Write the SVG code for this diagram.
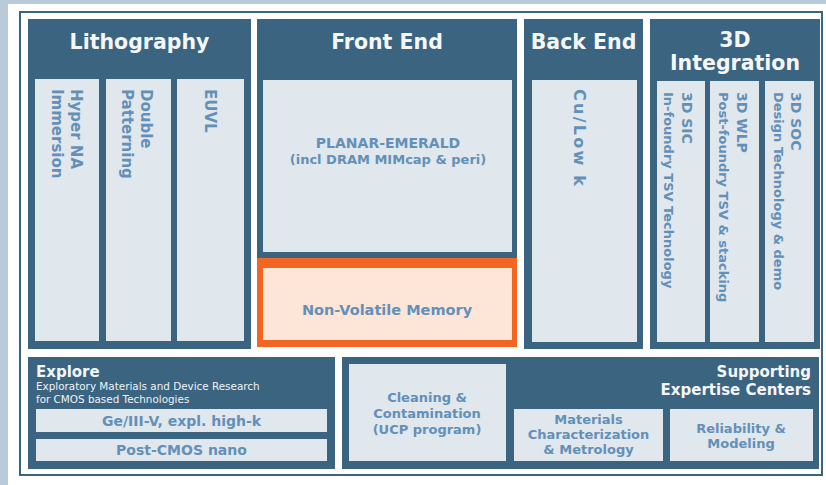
<svg xmlns="http://www.w3.org/2000/svg" width="826" height="485" viewBox="0 0 826 485">
<style>
.dark{fill:#3b6481}
.light{fill:#e0e7ed}
.t{font-family:"DejaVu Sans","Verdana",sans-serif;font-weight:bold}
.hd{fill:#f4f6f8;font-size:20.5px;text-anchor:middle}
.lb{fill:#6390b8;font-size:15px}
.sm{fill:#6390b8;font-size:13px}
.c{text-anchor:middle}
</style>
<rect x="0" y="0" width="826" height="485" fill="#ffffff"/>
<rect x="0" y="0" width="826" height="4" fill="#b9cbd9"/>
<rect x="0" y="0" width="8" height="485" fill="#b9cbd9"/>
<rect x="20" y="12" width="802" height="463" fill="none" stroke="#3b6481" stroke-width="2"/>

<g id="lithography">
<rect class="dark" x="28" y="19" width="223" height="330"/>
<text class="t hd" x="139.5" y="49">Lithography</text>
<rect class="light" x="35" y="79" width="64" height="262"/>
<rect class="light" x="106" y="79" width="65" height="262"/>
<rect class="light" x="177" y="79" width="67" height="262"/>
<text class="t lb" transform="translate(71,89) rotate(90)">Hyper NA<tspan x="0" y="19">Immersion</tspan></text>
<text class="t lb" transform="translate(141,89) rotate(90)">Double<tspan x="0" y="19">Patterning</tspan></text>
<text class="t lb" transform="translate(205,89) rotate(90)">EUVL</text>
</g>

<g id="front-end">
<rect class="dark" x="257" y="19" width="260" height="240"/>
<text class="t hd" x="387" y="49">Front End</text>
<rect class="light" x="263" y="80" width="249" height="172"/>
<text class="t sm c" x="388" y="148" style="font-size:14px">PLANAR-EMERALD</text>
<text class="t sm c" x="388" y="164">(incl DRAM MIMcap &amp; peri)</text>
</g>

<g id="non-volatile-memory">
<rect x="257" y="258" width="260" height="89" fill="#f26522"/>
<rect x="263" y="268" width="249" height="72" fill="#fde5d8"/>
<text class="t c" x="387" y="315" style="font-size:14.5px;fill:#6390b8">Non-Volatile Memory</text>
</g>

<g id="back-end">
<rect class="dark" x="524" y="19" width="119" height="330"/>
<text class="t hd" x="583.5" y="49">Back End</text>
<rect class="light" x="532" y="80" width="105" height="262"/>
<text class="t lb" transform="translate(574,89) rotate(90)" style="font-size:16px" textLength="97" lengthAdjust="spacing">Cu/Low k</text>
</g>

<g id="integration-3d">
<rect class="dark" x="650" y="19" width="170" height="330"/>
<text class="t hd" x="735" y="47">3D</text>
<text class="t hd" x="735" y="70">Integration</text>
<rect class="light" x="657" y="81" width="48" height="261"/>
<rect class="light" x="710" y="81" width="49" height="261"/>
<rect class="light" x="765" y="81" width="49" height="261"/>
<text class="t lb" transform="translate(682,92) rotate(90)" style="font-size:14px">3D SIC<tspan x="0" y="18" style="font-size:13px">In-foundry TSV Technology</tspan></text>
<text class="t lb" transform="translate(737,92) rotate(90)" style="font-size:14px">3D WLP<tspan x="0" y="18" style="font-size:13px">Post-foundry TSV &amp; stacking</tspan></text>
<text class="t lb" transform="translate(791,92) rotate(90)" style="font-size:14px">3D SOC<tspan x="0" y="17" style="font-size:13px">Design Technology &amp; demo</tspan></text>
</g>

<g id="explore">
<rect class="dark" x="28" y="357" width="307" height="112"/>
<text class="t" x="36" y="377" style="font-size:15px;fill:#f4f6f8">Explore</text>
<text x="36" y="390" style="font-family:'DejaVu Sans',Verdana,sans-serif;font-size:10.4px;fill:#eef2f5">Exploratory Materials and Device Research</text>
<text x="36" y="403" style="font-family:'DejaVu Sans',Verdana,sans-serif;font-size:10.4px;fill:#eef2f5">for CMOS based Technologies</text>
<rect class="light" x="36" y="409" width="291" height="23"/>
<text class="t sm c" x="181.5" y="426" style="font-size:14px">Ge/III-V, expl. high-k</text>
<rect class="light" x="36" y="439" width="291" height="22"/>
<text class="t sm c" x="181.5" y="455" style="font-size:14px">Post-CMOS nano</text>
</g>

<g id="supporting">
<rect class="dark" x="342" y="357" width="477" height="112"/>
<text class="t" x="811" y="377" style="font-size:15px;fill:#f4f6f8;text-anchor:end">Supporting</text>
<text class="t" x="811" y="395" style="font-size:15px;fill:#f4f6f8;text-anchor:end">Expertise Centers</text>
</g>

<g id="cleaning">
<rect class="light" x="349" y="364" width="157" height="97"/>
<text class="t sm c" x="427" y="402">Cleaning &amp;</text>
<text class="t sm c" x="427" y="418">Contamination</text>
<text class="t sm c" x="427" y="434">(UCP program)</text>
</g>

<g id="materials">
<rect class="light" x="514" y="409" width="149" height="52"/>
<text class="t sm c" x="588.5" y="424">Materials</text>
<text class="t sm c" x="588.5" y="439">Characterization</text>
<text class="t sm c" x="588.5" y="454">&amp; Metrology</text>
</g>

<g id="reliability">
<rect class="light" x="670" y="409" width="143" height="52"/>
<text class="t sm c" x="741" y="433">Reliability &amp;</text>
<text class="t sm c" x="741" y="448">Modeling</text>
</g>

<g id="connectors"></g>
</svg>
